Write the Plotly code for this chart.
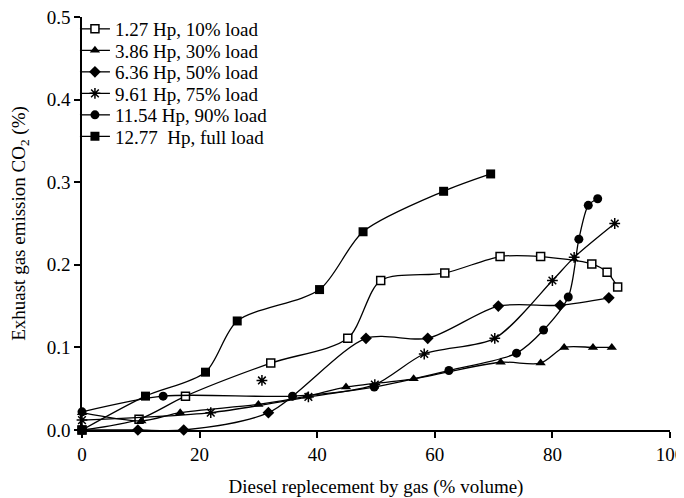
import plotly.graph_objects as go

names = ["1.27 Hp, 10% load", "3.86 Hp, 30% load", "6.36 Hp, 50% load",
         "9.61 Hp, 75% load", "11.54 Hp, 90% load", "12.77  Hp, full load"]

s1_x = [0, 9.7, 17.6, 32.1, 45.2, 50.8, 61.7, 71.1, 78.0, 86.7, 89.3, 91.1]
s1_y = [0.0, 0.013, 0.041, 0.081, 0.111, 0.181, 0.190, 0.210, 0.210, 0.201, 0.191, 0.173]

s2_x = [0, 10.1, 16.7, 30.0, 38.3, 44.9, 56.4, 71.2, 78.0, 82.0, 86.9, 90.1]
s2_y = [0.021, 0.011, 0.021, 0.031, 0.041, 0.052, 0.062, 0.082, 0.081, 0.100, 0.100, 0.100]

s3_x = [0, 9.5, 17.3, 31.7, 48.3, 58.8, 70.8, 81.3, 89.6]
s3_y = [0.0, 0.0, 0.0, 0.021, 0.111, 0.111, 0.150, 0.151, 0.160]

s4_x = [0, 21.9, 38.5, 49.8, 58.2, 70.2, 80.0, 83.7, 90.6]
s4_y = [0.012, 0.021, 0.040, 0.055, 0.092, 0.111, 0.181, 0.209, 0.250]
s4_extra_x = [30.6]
s4_extra_y = [0.060]

s5_x = [0, 13.8, 35.8, 49.7, 62.4, 73.9, 78.5, 82.7, 84.5, 86.1, 87.7]
s5_y = [0.022, 0.041, 0.041, 0.052, 0.072, 0.093, 0.121, 0.161, 0.231, 0.272, 0.280]

s6_x = [0, 10.8, 21.0, 26.4, 40.4, 47.8, 61.5, 69.5]
s6_y = [0.0, 0.041, 0.070, 0.132, 0.170, 0.240, 0.289, 0.310]

xs = [s1_x, s2_x, s3_x, s4_x, s5_x, s6_x]
ys = [s1_y, s2_y, s3_y, s4_y, s5_y, s6_y]
symbols = ["square", "triangle-up", "diamond", "asterisk-open", "circle", "square"]
fills = ["white", "black", "black", "black", "black", "black"]
sizes = [8, 9, 9, 9, 9, 9]
line_w = [1.5, 0, 0, 1.5, 0, 0]

font = "Liberation Serif, Times New Roman, serif"
FS = 19

fig = go.Figure()
legend_ids = ["legend", "legend2", "legend3", "legend4", "legend5", "legend6"]
for i in range(6):
    fig.add_trace(go.Scatter(
        x=xs[i], y=ys[i], name=names[i], mode="lines+markers",
        line=dict(color="black", width=1.3, shape="spline", smoothing=0.8),
        marker=dict(symbol=symbols[i], size=sizes[i], color=fills[i],
                    line=dict(color="black", width=line_w[i])),
        cliponaxis=False, legend=legend_ids[i],
    ))

fig.add_trace(go.Scatter(
    x=s4_extra_x, y=s4_extra_y, mode="markers", showlegend=False,
    marker=dict(symbol="asterisk-open", size=9, color="black", line=dict(color="black", width=1.5)),
    cliponaxis=False,
))

# The page body has an 8px margin, so the figure is sized to fit the 684x498 window.
# plot area on screen: x 82..670, y 17..430 (413px tall)
row_px = [29, 50.5, 72, 93.5, 115, 136.5]
layout_legends = {}
for i, lid in enumerate(legend_ids):
    layout_legends[lid] = dict(
        x=-0.012, y=(430 - row_px[i]) / 413.0, xanchor="left", yanchor="middle",
        bgcolor="rgba(0,0,0,0)", font=dict(family=font, size=FS),
        itemwidth=30, borderwidth=0,
    )

fig.update_layout(
    width=676, height=490,
    margin=dict(l=74, r=14, t=9, b=68, autoexpand=False),
    paper_bgcolor="white", plot_bgcolor="white",
    font=dict(family=font, size=FS, color="black"),
    showlegend=True,
    xaxis=dict(range=[0, 100], tickvals=[0, 20, 40, 60, 80, 100],
               showgrid=False, zeroline=False, showline=True, linecolor="black", linewidth=1.5,
               ticks="outside", ticklen=6, tickwidth=1.5, tickcolor="black",
               tickfont=dict(family=font, size=FS), ticklabeloverflow="allow",
               title=dict(text="Diesel replecement by gas (% volume)", font=dict(family=font, size=FS),
                          standoff=16)),
    yaxis=dict(range=[0, 0.5], tickvals=[0, 0.1, 0.2, 0.3, 0.4, 0.5], tickformat=".1f",
               showgrid=False, zeroline=False, showline=True, linecolor="black", linewidth=1.5,
               ticks="outside", ticklen=6, tickwidth=1.5, tickcolor="black",
               tickfont=dict(family=font, size=FS), ticklabeloverflow="allow",
               title=dict(text="Exhuast gas emission CO<sub>2</sub> (%)", font=dict(family=font, size=FS),
                          standoff=16)),
    **layout_legends,
)

fig.write_html("out.html")
